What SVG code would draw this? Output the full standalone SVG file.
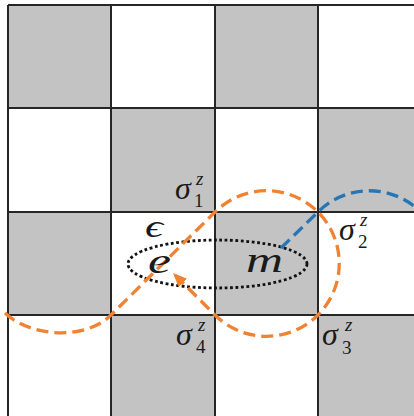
<svg xmlns="http://www.w3.org/2000/svg" width="414" height="416" viewBox="0 0 414 416">
<defs>
<style>
.g{fill:#c3c3c3}
.ln{stroke:#262626;stroke-width:2;fill:none}
.t{font-family:"Liberation Serif","DejaVu Serif",serif;font-style:italic;fill:#1a1a1a}
.s{font-size:32px}
.sc{font-size:19px}
.n{font-style:normal}
.or{fill:none;stroke:#f08232;stroke-width:3.3;stroke-dasharray:12 6}
.bl{fill:none;stroke:#2676b5;stroke-width:3.3;stroke-dasharray:12 6}
</style>
<marker id="ah" markerUnits="userSpaceOnUse" markerWidth="16" markerHeight="14" refX="14" refY="6" orient="auto">
<path d="M0,0 L14,6 L0,12 Z" fill="#f08232"/>
</marker>
</defs>
<rect width="414" height="416" fill="#fff"/>
<g id="board">
<rect class="g" x="8" y="5" width="103" height="103"/>
<rect class="g" x="215" y="5" width="103" height="103"/>
<rect class="g" x="111" y="108" width="104" height="104"/>
<rect class="g" x="318" y="108" width="96" height="104"/>
<rect class="g" x="8" y="212" width="103" height="103"/>
<rect class="g" x="215" y="212" width="103" height="103"/>
<rect class="g" x="111" y="315" width="104" height="101"/>
<rect class="g" x="318" y="315" width="96" height="101"/>
<path class="ln" d="M8,5 V416 M111,5 V416 M215,5 V416 M318,5 V416 M8,5 H414 M8,108 H414 M8,212 H414 M8,315 H414"/>
</g>
<g id="loop">
<ellipse cx="217.5" cy="264" rx="89.5" ry="24" fill="none" stroke="#111" stroke-width="2.8" stroke-dasharray="2.8 2.6"/>
</g>
<g id="connectors">
<path class="bl" d="M281,248 L318,212 A72.8,72.8 0 0 1 414,206"/>
<path class="or" d="M5,313 C30,337 85,341 111,315 L215,212 A72.8,72.8 0 1 1 215,315 L173,273" marker-end="url(#ah)"/>
</g>
<g id="labels">
<g id="sigma1"><text class="t s" x="175" y="199">σ</text><text class="t sc" x="196" y="185">z</text><text class="t sc n" x="194" y="207">1</text></g>
<g id="sigma2"><text class="t s" x="339" y="240">σ</text><text class="t sc" x="360" y="226">z</text><text class="t sc n" x="358" y="248">2</text></g>
<g id="sigma3"><text class="t s" x="322" y="345">σ</text><text class="t sc" x="345" y="331">z</text><text class="t sc n" x="342" y="354">3</text></g>
<g id="sigma4"><text class="t s" x="176" y="345">σ</text><text class="t sc" x="198" y="331">z</text><text class="t sc n" x="196" y="353">4</text></g>
<g id="eps"><text class="t" style="font-size:32px" x="145" y="237" textLength="18" lengthAdjust="spacingAndGlyphs">ϵ</text></g>
<g id="e"><text class="t" style="font-size:36px" x="148" y="273" textLength="23" lengthAdjust="spacingAndGlyphs">e</text></g>
<g id="m"><text class="t" style="font-size:36px" x="246" y="272" textLength="37" lengthAdjust="spacingAndGlyphs">m</text></g>
</g>
</svg>
